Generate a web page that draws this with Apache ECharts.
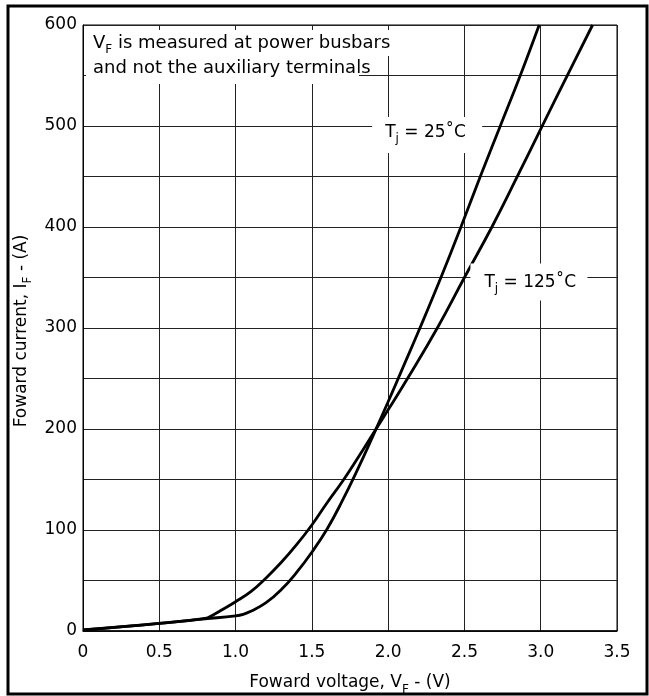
<!DOCTYPE html>
<html><head><meta charset="utf-8">
<script src="https://cdn.jsdelivr.net/npm/echarts@6.0.0/dist/echarts.min.js"></script>
<style>html,body{margin:0;padding:0;background:#fff}#c{width:649px;height:696px}</style>
</head><body><div id="c"></div>
<script>
// Forward voltage (V) and forward current (A)
const vf25  = [0, 0.5, 0.8, 1.0, 1.05, 1.1, 1.2, 1.3, 1.4, 1.5, 1.6, 1.7, 1.8, 1.9, 2.0, 2.1, 2.2, 2.346, 2.477, 2.604, 2.735, 2.866, 2.99];
const if25  = [1, 7.5, 12, 15, 16.5, 19.5, 28, 41, 58, 78, 101, 129, 160, 193, 227, 262, 297, 350, 400, 450, 500, 550, 600];
const vf125 = [0, 0.5, 0.8, 0.85, 0.9, 1.0, 1.1, 1.2, 1.3, 1.4, 1.5, 1.6, 1.7, 1.8, 1.9, 2.0, 2.127, 2.326, 2.5, 2.68, 2.85, 3.003, 3.178, 3.34];
const if125 = [1, 7.5, 12.5, 15.7, 20, 29, 39, 52.5, 68, 85.5, 105, 127, 148, 171, 195, 219, 250, 301, 350, 400, 451, 498, 551, 600];
const xTickLabels = ['0', '0.5', '1.0', '1.5', '2.0', '2.5', '3.0', '3.5'];
const yTickLabels = ['0', '100', '200', '300', '400', '500', '600'];

const FONT = "'DejaVu Sans', sans-serif";
const chart = echarts.init(document.getElementById('c'), null, {renderer: 'canvas'});

const lineStyle = {color: '#000', width: 2.8};
const option = {
  animation: false,
  backgroundColor: '#fff',
  grid: {left: 83, top: 25, right: 32, bottom: 65, show: true, borderColor: '#000', borderWidth: 1, backgroundColor: 'transparent'},
  xAxis: {
    type: 'value', min: 0, max: 3.5, interval: 0.5,
    axisLine: {show: true, lineStyle: {color: '#000', width: 1.5}},
    axisTick: {show: false},
    splitLine: {show: true, lineStyle: {color: '#222', width: 1}},
    axisLabel: {color: '#000', fontFamily: FONT, fontSize: 17, margin: 13,
      formatter: v => xTickLabels[Math.round(v / 0.5)]}
  },
  yAxis: {
    type: 'value', min: 0, max: 600, interval: 100,
    axisLine: {show: true, lineStyle: {color: '#000', width: 1}},
    axisTick: {show: false},
    minorTick: {show: false, splitNumber: 2},
    splitLine: {show: true, lineStyle: {color: '#222', width: 1}},
    minorSplitLine: {show: true, lineStyle: {color: '#222', width: 1}},
    axisLabel: {color: '#000', fontFamily: FONT, fontSize: 17, margin: 6,
      formatter: v => yTickLabels[Math.round(v / 100)]}
  },
  series: [
    {name: 'Tj = 25˚C', type: 'line', data: vf25.map((v, i) => [v, if25[i]]), smooth: 0.45, showSymbol: false, lineStyle, z: 5},
    {name: 'Tj = 125˚C', type: 'line', data: vf125.map((v, i) => [v, if125[i]]), smooth: 0.45, showSymbol: false, lineStyle, z: 5}
  ]
};
chart.setOption(option);

const P = (v, i) => chart.convertToPixel({gridIndex: 0}, [v, i]);
const rich = {
  m: {fontFamily: FONT, fontSize: 17, lineHeight: 20, color: '#000'},
  n: {fontFamily: FONT, fontSize: 18, lineHeight: 20, color: '#000'},
  s: {fontFamily: FONT, fontSize: 12, lineHeight: 14, padding: [13, 0, 0, 0], color: '#000'}
};
function txt(x, y, text, align, extra) {
  return Object.assign({type: 'text', x, y, z: 102, silent: true,
    style: {text, rich, align: align || 'left', verticalAlign: 'middle', fill: '#000'}}, extra || {});
}
function box(x, y, w, h) {
  return {type: 'rect', z: 101, silent: true, shape: {x, y, width: w, height: h}, style: {fill: '#fff'}};
}
const o = P(0, 600), b = P(0, 0), r = P(3.5, 0);
const a25 = P(2.0, 500), a125 = P(2.5, 350);
const els = [
  // outer frame
  {type: 'rect', z: 103, silent: true, shape: {x: 8, y: 6, width: 639, height: 688}, style: {fill: null, stroke: '#000', lineWidth: 3}},
  // note
  box(o[0] + 3, o[1] + 5, 306, 26),
  box(o[0] + 3, o[1] + 31, 273, 28),
  txt(o[0] + 10, o[1] + 18.8, '{n|V}{s|F}{n| is measured at power busbars}'),
  txt(o[0] + 10, o[1] + 43.8, '{n|and not the auxiliary terminals}'),
  // curve labels
  box(a25[0] - 16, a25[1] - 9, 110, 36),
  txt(a25[0] - 3, a25[1] + 6.5, '{m|T}{s|j}{m| = 25˚C}'),
  box(a125[0] + 6, a125[1] - 14, 117, 37),
  txt(a125[0] + 20, a125[1] + 5, '{m|T}{s|j}{m| = 125˚C}'),
  // axis titles
  txt((o[0] + r[0]) / 2, b[1] + 52, '{m|Foward voltage, V}{s|F}{m| - (V)}', 'center'),
  txt(21.5, (o[1] + b[1]) / 2 + 3, '{m|Foward current, I}{s|F}{m| - (A)}', 'center', {rotation: Math.PI / 2})
];
chart.setOption({graphic: {elements: els}});
</script>
</body></html>
